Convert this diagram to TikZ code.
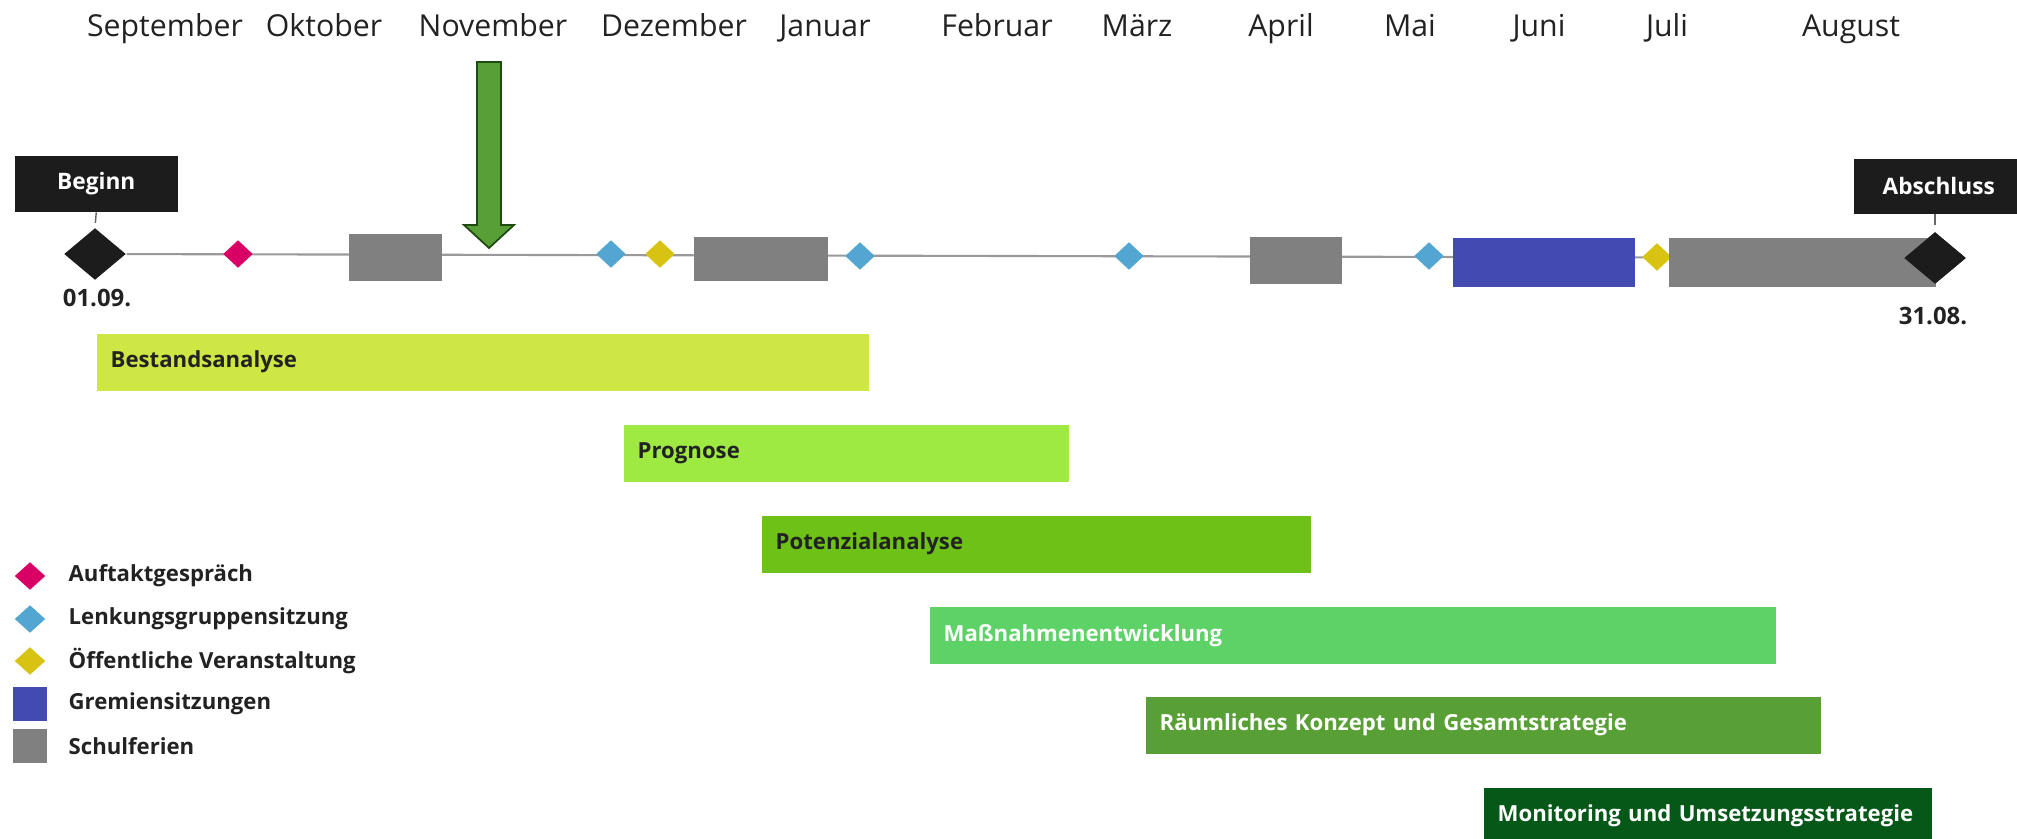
\documentclass[tikz,border=0pt]{standalone}
\usepackage{fontspec}
\setmainfont{Open Sans}
\usetikzlibrary{shapes.geometric,backgrounds}
\definecolor{bestand}{RGB}{207,231,69}
\definecolor{prognose}{RGB}{158,233,66}
\definecolor{potenzial}{RGB}{110,193,22}
\definecolor{massnahmen}{RGB}{93,210,102}
\definecolor{raum}{RGB}{88,159,53}
\definecolor{monitoring}{RGB}{6,88,24}
\definecolor{ferien}{RGB}{128,128,128}
\definecolor{gremien}{RGB}{67,75,178}
\definecolor{auftakt}{RGB}{216,0,100}
\definecolor{lenkung}{RGB}{82,166,209}
\definecolor{oeffentlich}{RGB}{216,194,18}
\definecolor{ms}{RGB}{28,28,28}
\definecolor{dunkel}{RGB}{34,34,34}
\definecolor{pfeilrand}{RGB}{31,74,18}
\tikzset{
  month/.style={anchor=base,text=dunkel,font=\fontsize{8.6}{10}\selectfont},
  milestone/.style={diamond,fill=ms,minimum width=0.62cm,minimum height=0.52cm,inner sep=0pt},
  msbox/.style={fill=ms,text=white,font=\bfseries\fontsize{6.45}{8}\selectfont,anchor=north west,inner sep=0pt},
  msdate/.style={text=dunkel,font=\bfseries\fontsize{6.8}{9}\selectfont},
  event/.style={diamond,fill=#1,minimum width=0.30cm,minimum height=0.28cm,inner sep=0pt},
  block/.style={fill=#1,anchor=north west,inner sep=0pt},
  task/.style={anchor=north west,minimum height=0.57cm,text width=#1,inner xsep=0.14cm,inner ysep=0pt,
    align=left,text=dunkel,font=\bfseries\fontsize{6.3}{8}\selectfont},
  legtext/.style={anchor=west,text=dunkel,inner sep=0pt,font=\bfseries\fontsize{6.3}{8}\selectfont},
  tline/.style={draw=black!40,line width=0.6pt}
}
\begin{document}
\begin{tikzpicture}[x=0.01cm,y=-0.01cm]
\useasboundingbox (0,0) rectangle (2017,839);
% Monate
\foreach \m/\x [count=\i] in {September/165,Oktober/324,November/493,Dezember/674,Januar/825,Februar/997,März/1137,April/1281,Mai/1410,Juni/1539,Juli/1667,August/1851}
  \node[month] (mon\i) at (\x,36) {\m};
% Beginn und Abschluss
\node[milestone] (start) at (95,254) {};
\node[milestone] (ende) at (1935,258) {};
\node[msbox,minimum width=1.63cm,minimum height=0.56cm] (startbox) at (14,155) {Beginn};
\node[msbox,minimum width=1.70cm,minimum height=0.55cm] (endebox) at (1853,158) {Abschluss};
\draw[dashed,black!60,line width=0.4pt] (startbox.south) -- (start.north);
\draw[dashed,black!60,line width=0.4pt] (endebox.south -| ende) -- (ende.north);
\node[msdate] (startdat) at (97,298) {01.09.};
\node[msdate] (endedat) at (1933,316) {31.08.};
% Termine
\node[event=auftakt] (e1) at (238,254) {};
\node[event=lenkung] (e2) at (611,254) {};
\node[event=oeffentlich] (e3) at (660,254) {};
\node[event=lenkung] (e4) at (860,256) {};
\node[event=lenkung] (e5) at (1129,256) {};
\node[event=lenkung] (e6) at (1429,256) {};
\node[event=oeffentlich] (e7) at (1657,257) {};
% Schulferien und Gremien
\node[block=ferien,minimum width=0.93cm,minimum height=0.47cm] (f1) at (348,233) {};
\node[block=ferien,minimum width=1.34cm,minimum height=0.44cm] (f2) at (693,236) {};
\node[block=ferien,minimum width=0.92cm,minimum height=0.47cm] (f3) at (1249,236) {};
\node[block=ferien,minimum width=2.67cm,minimum height=0.49cm] (f4) at (1668,237) {};
\node[block=gremien,minimum width=1.82cm,minimum height=0.49cm] (g1) at (1452,237) {};
\node[milestone] at (ende) {};
\begin{scope}[on background layer]
\draw[tline] (start) -- (ende);
\end{scope}
% Pfeil
\coordinate (spitze) at (489,248);
\draw[fill=raum,draw=pfeilrand,line width=0.5pt,line join=miter]
  (spitze) -- ++(-25,-23) -- ++(13,0) -- ++(0,-163) -- ++(24,0) -- ++(0,163) -- ++(13,0) -- cycle;
% Arbeitsphasen
\node[task=7.44cm,fill=bestand] (t1) at (96,333) {Bestandsanalyse};
\node[task=4.17cm,fill=prognose] (t2) at (623,424) {Prognose};
\node[task=5.21cm,fill=potenzial] (t3) at (761,515) {Potenzialanalyse};
\node[task=8.18cm,fill=massnahmen,text=white] (t4) at (929,606) {Maßnahmenentwicklung};
\node[task=6.47cm,fill=raum,text=white] (t5) at (1145,696) {Räumliches Konzept und Gesamtstrategie};
\node[task=4.20cm,fill=monitoring,text=white] (t6) at (1483,787) {Monitoring und Umsetzungsstrategie};
% Legende
\foreach \c/\t/\y [count=\i] in {auftakt/Auftaktgespräch/576,lenkung/Lenkungsgruppensitzung/619,oeffentlich/Öffentliche Veranstaltung/661}
  \node[event=\c,minimum width=0.31cm] (k\i) at (30,\y) {};
\foreach \c/\y [count=\i from 4] in {gremien/704,ferien/746}
  \node[fill=\c,minimum size=0.33cm,inner sep=0pt] (k\i) at (30,\y) {};
\foreach \t [count=\i] in {Auftaktgespräch,Lenkungsgruppensitzung,Öffentliche Veranstaltung,Gremiensitzungen,Schulferien}
  \node[legtext] (l\i) at (68,0 |- k\i) {\t};
\end{tikzpicture}
\end{document}
